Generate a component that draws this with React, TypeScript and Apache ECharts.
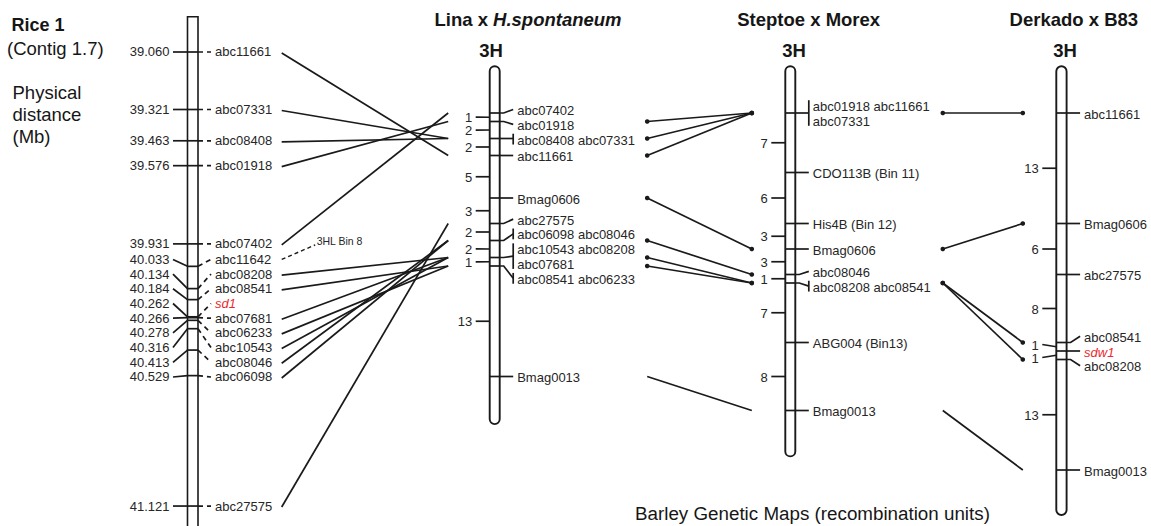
import React, { useEffect, useRef } from "react";
import * as echarts from "echarts";

const FONT = '"Liberation Sans", Arial, Helvetica, sans-serif';
const INK = "#1a1a1a";
const LABEL = "#262626";
const RED = "#ec2a30";

// ---------- Rice 1 (Contig 1.7): physical positions (Mb)
const riceMarkers = [
  "abc11661", "abc07331", "abc08408", "abc01918", "abc07402", "abc11642", "abc08208",
  "abc08541", "sd1", "abc07681", "abc06233", "abc10543", "abc08046", "abc06098", "abc27575",
];
const ricePositionsMb = [
  39.06, 39.321, 39.463, 39.576, 39.931, 40.033, 40.134, 40.184, 40.262, 40.266, 40.278,
  40.316, 40.413, 40.529, 41.121,
];
const riceNoteMarker = "abc11642";
const riceNoteText = "3HL Bin 8";

// ---------- Barley 3H genetic maps: loci (top to bottom) and recombination units between them
const linaLoci = [
  ["abc07402"], ["abc01918"], ["abc08408", "abc07331"], ["abc11661"], ["Bmag0606"], ["abc27575"],
  ["abc06098", "abc08046"], ["abc10543", "abc08208", "abc07681"], ["abc08541", "abc06233"], ["Bmag0013"],
];
const linaIntervals = [1, 2, 2, 5, 3, 2, 2, 1, 13];

const steptoeLoci = [
  ["abc01918", "abc11661", "abc07331"], ["CDO113B (Bin 11)"], ["His4B (Bin 12)"], ["Bmag0606"],
  ["abc08046"], ["abc08208", "abc08541"], ["ABG004 (Bin13)"], ["Bmag0013"],
];
const steptoeIntervals = [7, 6, 3, 3, 1, 7, 8];

const derkadoLoci = [
  ["abc11661"], ["Bmag0606"], ["abc27575"], ["abc08541"], ["sdw1"], ["abc08208"], ["Bmag0013"],
];
const derkadoIntervals = [13, 6, 8, 1, 1, 13];

const highlightedLoci = ["sd1", "sdw1"];
const linksWithoutDots = ["Bmag0013"];

// drawn chromosome extents (cM relative to the first locus)
const linaExtent = [-5.5, 36.6];
const steptoeExtent = [-5.5, 40.4];
const derkadoExtent = [-5.5, 47.3];

// ---------- layout
const RICE_AXIS = [38.9, 41.2];
const RICE_BAR_END = 41.4;
const BARLEY_AXIS = [-6, 48];
const COLS = [
  { left: 187.5, width: 10.5, top: 16.75, height: 506.7 },
  { left: 489.7, width: 10, top: 62, height: 459 },
  { left: 785.3, width: 10, top: 62, height: 459 },
  { left: 1056.3, width: 10.3, top: 62, height: 459 },
];
const LH = 14.8;
const RICE_LH = 14.7;
const INT_GAP = 13;
const LW = 1.7;

const barleyMaps = [
  { loci: linaLoci, intervals: linaIntervals, extent: linaExtent },
  { loci: steptoeLoci, intervals: steptoeIntervals, extent: steptoeExtent },
  { loci: derkadoLoci, intervals: derkadoIntervals, extent: derkadoExtent },
];

function cumulative(intervals: number[]) {
  const out = [0];
  for (const d of intervals) out.push(out[out.length - 1] + d);
  return out;
}

function spread(targets: number[], sizes: number[]): number[] {
  const place = (idx: number[]) => {
    let off = 0;
    let s = 0;
    for (const k of idx) {
      s += targets[k] - (off + sizes[k] / 2);
      off += sizes[k];
    }
    return { idx, top: s / idx.length, size: off };
  };
  const clusters: { idx: number[]; top: number; size: number }[] = [];
  targets.forEach((_, i) => {
    clusters.push(place([i]));
    while (clusters.length > 1) {
      const b = clusters[clusters.length - 1];
      const a = clusters[clusters.length - 2];
      if (a.top + a.size <= b.top + 1e-6) break;
      clusters.splice(clusters.length - 2, 2, place([...a.idx, ...b.idx]));
    }
  });
  const out: number[] = new Array(targets.length);
  for (const c of clusters) {
    let off = c.top;
    for (const k of c.idx) {
      out[k] = off + sizes[k] / 2;
      off += sizes[k];
    }
  }
  return out;
}

function locusLines(names: string[]) {
  const out: string[] = [];
  for (let i = 0; i < names.length; i += 2) out.push(names.slice(i, i + 2).join(" "));
  return out;
}

const seg = (x1: number, y1: number, x2: number, y2: number, extra: any = {}) => ({
  type: "line",
  shape: { x1, y1, x2, y2 },
  style: { stroke: INK, lineWidth: LW, ...extra },
});
const poly = (points: number[][], extra: any = {}) => ({
  type: "polyline",
  shape: { points },
  style: { stroke: INK, lineWidth: LW, fill: "none", ...extra },
});
const label = (text: string, x: number, y: number, align: string, opts: any = {}) => {
  const hl = highlightedLoci.includes(text);
  return {
    type: "text",
    x,
    y,
    style: {
      text,
      fill: hl ? RED : opts.color ?? LABEL,
      fontSize: opts.size ?? 13,
      fontFamily: FONT,
      fontStyle: hl || opts.italic ? "italic" : "normal",
      fontWeight: opts.bold ? "bold" : "normal",
      textAlign: align,
      textVerticalAlign: "middle",
      align,
      verticalAlign: "middle",
    },
  };
};

const gtext = (text: string, x: number, y: number, opts: any = {}) => ({
  type: "text",
  x,
  y,
  silent: true,
  style: {
    text,
    fill: opts.color ?? "#161616",
    fontSize: opts.size ?? 18.5,
    fontFamily: FONT,
    fontWeight: opts.bold ? "bold" : "normal",
    textAlign: opts.align ?? "left",
    textVerticalAlign: "middle",
    align: opts.align ?? "left",
    verticalAlign: "middle",
  },
});

function riceSeries() {
  return {
    type: "custom",
    coordinateSystem: "cartesian2d",
    xAxisIndex: 0,
    yAxisIndex: 0,
    clip: false,
    silent: true,
    data: [[0, 40]],
    renderItem: (_p: any, api: any) => {
      const [left, top] = api.coord([0, RICE_AXIS[0]]);
      const right = api.coord([1, RICE_AXIS[0]])[0];
      const bottom = api.coord([0, RICE_BAR_END])[1];
      const ticks = ricePositionsMb.map((v) => api.coord([0, v])[1]);
      const labels = spread(ticks, ticks.map(() => RICE_LH));
      const children: any[] = [
        {
          type: "rect",
          shape: { x: left, y: top, width: right - left, height: bottom - top },
          style: { fill: "#fff", stroke: INK, lineWidth: 1.6 },
        },
      ];
      ricePositionsMb.forEach((v, i) => {
        const t = ticks[i];
        const l = labels[i];
        children.push(seg(left - 14.5, l, left, t));
        children.push(seg(left, t, right, t));
        children.push(seg(right, t, right + 13, l, { lineDash: [5, 4] }));
        children.push(label(v.toFixed(3), left - 18, l, "right"));
        children.push(label(riceMarkers[i], right + 17, l, "left"));
      });
      return { type: "group", children };
    },
  };
}

function mapSeries(k: number, map: any) {
  return {
    type: "custom",
    coordinateSystem: "cartesian2d",
    xAxisIndex: k,
    yAxisIndex: k,
    clip: false,
    silent: true,
    data: [[0, 0]],
    renderItem: (_p: any, api: any) => {
      const left = api.coord([0, 0])[0];
      const right = api.coord([1, 0])[0];
      const yTop = api.coord([0, map.extent[0]])[1];
      const yBot = api.coord([0, map.extent[1]])[1];
      const pos = cumulative(map.intervals);
      const ticks = pos.map((p: number) => api.coord([0, p])[1]);
      const lines = map.loci.map(locusLines);
      const sizes = lines.map((l: string[]) => l.length * LH);
      const centers = spread(ticks, sizes);
      const children: any[] = [
        {
          type: "rect",
          shape: { x: left, y: yTop, width: right - left, height: yBot - yTop, r: (right - left) / 2 },
          style: { fill: "#fff", stroke: INK, lineWidth: 1.9 },
        },
      ];
      map.loci.forEach((loc: string[], i: number) => {
        const t = ticks[i];
        const c = centers[i];
        const h = sizes[i];
        const bx = right + 13.5;
        children.push(seg(left, t, right, t));
        if (Math.abs(c - t) < 0.75) children.push(seg(right, t, bx, t));
        else children.push(poly([[right, t], [right + 4, t], [bx, c]]));
        if (loc.length > 1) children.push(seg(bx, c - h / 2 + 2, bx, c + h / 2 - 2));
        lines[i].forEach((txt: string, j: number) =>
          children.push(label(txt, right + 17.5, c - h / 2 + LH * (j + 0.5) + 1, "left"))
        );
      });
      const mids = map.intervals.map((_: number, i: number) => (ticks[i] + ticks[i + 1]) / 2);
      const ly = spread(mids, mids.map(() => INT_GAP));
      map.intervals.forEach((d: number, i: number) => {
        children.push(seg(left - 14, ly[i], left, mids[i]));
        children.push(label(String(d), left - 17.5, ly[i] + 0.5, "right"));
      });
      return { type: "group", children };
    },
  };
}

export default function App() {
  const ref = useRef<HTMLDivElement>(null);
  useEffect(() => {
    document.body.style.margin = "0";
    if (!ref.current) return;
    const chart = echarts.init(ref.current, null, { renderer: "svg" });
    chart.setOption({
      animation: false,
      backgroundColor: "#ffffff",
      grid: COLS.map((c) => ({ left: c.left, width: c.width, top: c.top, height: c.height })),
      xAxis: COLS.map((_, i) => ({ type: "value", gridIndex: i, min: 0, max: 1, show: false })),
      yAxis: COLS.map((_, i) => ({
        type: "value",
        gridIndex: i,
        min: i === 0 ? RICE_AXIS[0] : BARLEY_AXIS[0],
        max: i === 0 ? RICE_AXIS[1] : BARLEY_AXIS[1],
        inverse: true,
        show: false,
      })),
      graphic: [
        gtext("Rice 1", 11.5, 24.5, { bold: true, size: 18 }),
        gtext("(Contig 1.7)", 7, 48, {}),
        gtext("Physical", 12.5, 92, {}),
        gtext("distance", 12.5, 114, {}),
        gtext("(Mb)", 12.5, 136.5, {}),
        {
          type: "text",
          x: 528,
          y: 19.5,
          silent: true,
          style: {
            text: "{b|Lina x }{i|H.spontaneum}",
            rich: {
              b: { fontSize: 18.5, fontFamily: FONT, fontWeight: "bold", fill: "#161616" },
              i: { fontSize: 18.5, fontFamily: FONT, fontWeight: "bold", fontStyle: "italic", fill: "#161616" },
            },
            textAlign: "center",
            textVerticalAlign: "middle",
            align: "center",
            verticalAlign: "middle",
          },
        },
        gtext("Steptoe x Morex", 808.7, 19.5, { bold: true, align: "center" }),
        gtext("Derkado x B83", 1073.8, 19.5, { bold: true, align: "center" }),
        gtext("3H", 491, 50, { bold: true, align: "center" }),
        gtext("3H", 794, 50, { bold: true, align: "center" }),
        gtext("3H", 1065, 50, { bold: true, align: "center" }),
        gtext("Barley Genetic Maps (recombination units)", 635, 513, { size: 18.8 }),
      ],
      series: [],
    });

    // pixel positions through the library's axes
    const py = (k: number, v: number) => chart.convertToPixel({ yAxisIndex: k } as any, v) as unknown as number;
    const px = (k: number, v: number) => chart.convertToPixel({ xAxisIndex: k } as any, v) as unknown as number;

    const riceTicks = ricePositionsMb.map((v) => py(0, v));
    const riceLabels = spread(riceTicks, riceTicks.map(() => RICE_LH));
    const mapTicks = barleyMaps.map((m, i) => cumulative(m.intervals).map((p) => py(i + 1, p)));
    const edges = COLS.map((_, k) => ({ left: px(k, 0), right: px(k, 1) }));

    const linkChildren: any[] = [];
    const link = (x1: number, y1: number, x2: number, y2: number, dots: boolean) => {
      linkChildren.push(seg(x1, y1, x2, y2, { lineWidth: 1.7 }));
      if (dots) {
        linkChildren.push({ type: "circle", shape: { cx: x1, cy: y1, r: 2.3 }, style: { fill: INK } });
        linkChildren.push({ type: "circle", shape: { cx: x2, cy: y2, r: 2.3 }, style: { fill: INK } });
      }
    };

    // Rice -> Lina
    const rx = edges[0].right + 83.7;
    riceMarkers.forEach((m, i) => {
      const j = linaLoci.findIndex((l) => l.includes(m));
      if (j >= 0) link(rx, riceLabels[i] + 1, edges[1].left - 41.5, mapTicks[0][j], false);
      if (m === riceNoteMarker) {
        const y = riceLabels[i];
        linkChildren.push(seg(rx, y, rx + 33.5, y - 14.5, { lineDash: [4, 3], lineWidth: 1.4 }));
        linkChildren.push(label(riceNoteText, rx + 35, y - 18.5, "left", { size: 10.5 }));
      }
    });

    // Barley map -> next barley map
    for (let a = 0; a < barleyMaps.length - 1; a++) {
      const A = barleyMaps[a];
      const B = barleyMaps[a + 1];
      A.loci.forEach((la, i) => {
        B.loci.forEach((lb, j) => {
          const shared = la.filter((n) => lb.includes(n));
          if (!shared.length) return;
          const dots = !shared.some((n) => linksWithoutDots.includes(n));
          link(edges[a + 1].right + 147.5, mapTicks[a][i], edges[a + 2].left - 33.5, mapTicks[a + 1][j], dots);
        });
      });
    }

    chart.setOption({
      series: [
        riceSeries(),
        ...barleyMaps.map((m, i) => mapSeries(i + 1, m)),
        {
          type: "custom",
          coordinateSystem: "none",
          silent: true,
          data: [0],
          renderItem: () => ({ type: "group", children: linkChildren }),
        },
      ],
    });
    return () => chart.dispose();
  }, []);
  return <div ref={ref} style={{ width: 1151, height: 526, overflow: "hidden" }} />;
}
